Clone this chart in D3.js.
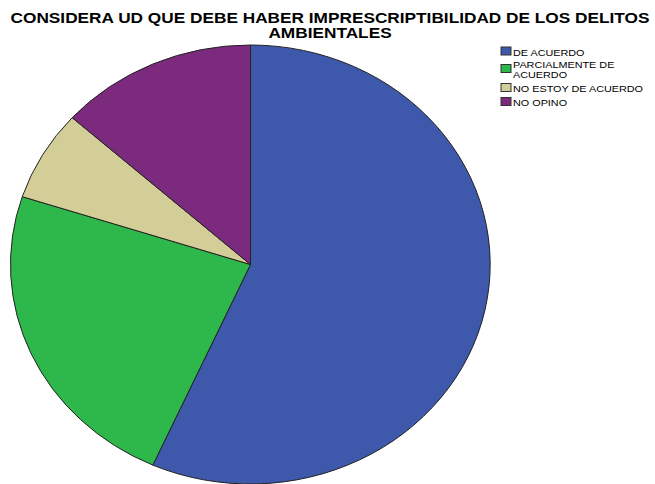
<!DOCTYPE html>
<meta charset="utf-8">
<style>
body { margin: 0; background: white; }
text { font-family: "Liberation Sans", Arial, sans-serif; }
.slice { stroke: #222; stroke-width: 1px; vector-effect: non-scaling-stroke; }
</style>
<body>
<script src="https://d3js.org/d3.v7.min.js"></script>
<script>

// respuestas (frecuencias)
var categories = ["DE ACUERDO", "PARCIALMENTE DE ACUERDO", "NO ESTOY DE ACUERDO", "NO OPINO"];
var counts = [17, 7, 2, 4];
var colors = ["#3e58ac", "#2eb84b", "#d3ce97", "#7b2a7e"];
var legendLines = [["DE ACUERDO"], ["PARCIALMENTE DE", "ACUERDO"], ["NO ESTOY DE ACUERDO"], ["NO OPINO"]];
var titleLines = ["CONSIDERA UD QUE DEBE HABER IMPRESCRIPTIBILIDAD DE LOS DELITOS", "AMBIENTALES"];

var width = 655,
    height = 484;

var svg = d3.select("body").append("svg")
    .attr("width", width)
    .attr("height", height);

// title (the original output is stretched a bit horizontally)
svg.append("g").selectAll("text")
    .data(titleLines)
  .enter().append("text")
    .attr("transform", (d, i) => "translate(330," + (22.5 + i * 15) + ") scale(1.15,1)")
    .attr("text-anchor", "middle")
    .style("font-weight", "bold")
    .style("font-size", "15px")
    .text(d => d);

var pie = d3.pie().sort(null).value(d => d);
var arc = d3.arc().innerRadius(0).outerRadius(1);

// pie is an ellipse: unit circle scaled
var g = svg.append("g")
    .attr("transform", "translate(250.5,264.5) scale(240,219.5)");

g.selectAll("path")
    .data(pie(counts))
  .enter().append("path")
    .attr("class", "slice")
    .attr("d", arc)
    .attr("fill", (d, i) => colors[i]);

// legend
var legY = [55.5, 67.5, 91.5, 105.5];
var swY = [47, 64.5, 83.5, 97.5];

var leg = svg.append("g").selectAll("g")
    .data(categories)
  .enter().append("g");

leg.append("rect")
    .attr("x", 501)
    .attr("y", (d, i) => swY[i])
    .attr("width", 10)
    .attr("height", 8)
    .attr("fill", (d, i) => colors[i])
    .attr("stroke", "#333")
    .attr("stroke-width", 1);

leg.each(function(d, i) {
    var lines = legendLines[i];
    d3.select(this).selectAll("text")
        .data(lines)
      .enter().append("text")
        .attr("transform", (l, j) => "translate(513," + (legY[i] + j * 10) + ") scale(1.14,1)")
        .attr("font-size", "9.5px")
        .text(l => l);
});

</script>
</body>
</html>
